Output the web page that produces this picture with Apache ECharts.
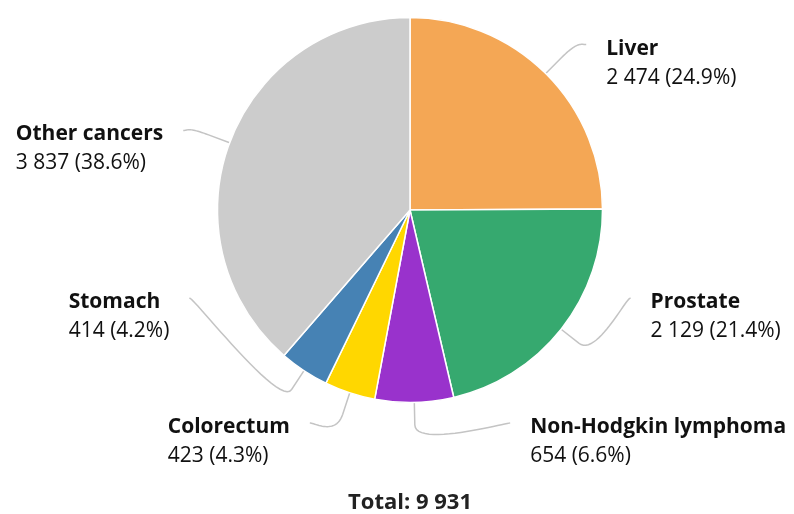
<!DOCTYPE html>
<html><head><meta charset="utf-8">
<script src="https://cdn.jsdelivr.net/npm/echarts@6/dist/echarts.min.js"></script>
<style>html,body{margin:0;padding:0;background:#fff}#chart{width:794px;height:514px}</style>
</head><body><div id="chart"></div>
<script>
const categories = ['Liver', 'Prostate', 'Non-Hodgkin lymphoma', 'Colorectum', 'Stomach', 'Other cancers'];
const values = [2474, 2129, 654, 423, 414, 3837];
const colors = ['#f4a755', '#36a96f', '#9932cc', '#ffd700', '#4682b4', '#cccccc'];

// layout constants
const CX = 410, CY = 210, R = 192.5;
const LABEL_DIST = 46.5, BREAK_DIST = 22.5, MAX_Y = 423, MIN_GAP = 125, Y_SHIFT = 4, TEXT_GAP = 20;
const LINE_H = 29, FONT = '"Open Sans", "Noto Sans", sans-serif', FS = 21;

const total = values.reduce((a, b) => a + b, 0);
function fmt(n) { return String(n).replace(/\B(?=(\d{3})+(?!\d))/g, ' '); }

// label anchor positions derived from slice angles
const anchors = [];
let acc = 0;
values.forEach((v, i) => {
  const mid = (acc + v / 2) / total * 2 * Math.PI;
  acc += v;
  const s = Math.sin(mid), c = -Math.cos(mid);
  anchors[i] = { dir: [s, c], right: s > 0, y: CY + (R + LABEL_DIST) * c + Y_SHIFT };
});
[true, false].forEach(side => {
  const list = anchors.filter(a => a.right === side).sort((a, b) => b.y - a.y);
  let prev = Infinity;
  list.forEach(a => { const y = Math.min(a.y, MAX_Y, prev - MIN_GAP); a.y = y; prev = y; });
});
anchors.forEach(a => {
  const RA = R + LABEL_DIST, dy = a.y - CY + Y_SHIFT;
  const dx = Math.sqrt(Math.max(0, RA * RA - dy * dy));
  a.x = CX + (a.right ? dx : -dx);
});

function linePoints(a) {
  const t = [CX + R * a.dir[0], CY + R * a.dir[1]];
  const b = [CX + (R + BREAK_DIST) * a.dir[0], CY + (R + BREAK_DIST) * a.dir[1]];
  const P0 = [a.x, a.y], P1 = [a.x + (a.right ? -5 : 5), a.y];
  const P2 = [2 * b[0] - t[0], 2 * b[1] - t[1]], P3 = b;
  const pts = [t];
  const N = 24;
  for (let k = N; k >= 0; k--) {
    const u = k / N, m = 1 - u;
    pts.push([
      m*m*m*P0[0] + 3*m*m*u*P1[0] + 3*m*u*u*P2[0] + u*u*u*P3[0],
      m*m*m*P0[1] + 3*m*m*u*P1[1] + 3*m*u*u*P2[1] + u*u*u*P3[1]
    ]);
  }
  return pts;
}

const chart = echarts.init(document.getElementById('chart'), null, { renderer: 'canvas' });
chart.setOption({
  animation: false,
  backgroundColor: '#fff',
  graphic: [{
    type: 'text', x: CX, y: 503,
    style: { text: 'Total: ' + fmt(total), font: 'bold 22px ' + FONT, fill: '#222', textAlign: 'center', textVerticalAlign: 'middle' }
  }],
  series: [{
    type: 'pie',
    center: [CX, CY],
    radius: R,
    startAngle: 90,
    clockwise: true,
    avoidLabelOverlap: false,
    emphasis: { disabled: true },
    itemStyle: { borderColor: '#fff', borderWidth: 1.5 },
    data: categories.map((name, i) => ({ name, value: values[i], itemStyle: { color: colors[i] } })),
    label: {
      show: true,
      formatter: p => '{b|' + p.name + '}\n{c|' + fmt(p.value) + ' (' + (p.value / total * 100).toFixed(1) + '%)}',
      rich: {
        b: { fontFamily: FONT, fontSize: FS, fontWeight: 'bold', color: '#111', lineHeight: LINE_H, align: 'left' },
        c: { fontFamily: FONT, fontSize: FS, color: '#111', lineHeight: LINE_H, align: 'left' }
      }
    },
    labelLine: { show: true, smooth: false, lineStyle: { color: '#c4c4c4', width: 1.5 } },
    labelLayout: function (p) {
      const a = anchors[p.dataIndex];
      return {
        x: a.x + (a.right ? TEXT_GAP : -TEXT_GAP),
        y: a.y + 4 - LINE_H / 2,
        align: a.right ? 'left' : 'right',
        verticalAlign: 'top',
        labelLinePoints: linePoints(a)
      };
    }
  }]
});
</script>
</body></html>
